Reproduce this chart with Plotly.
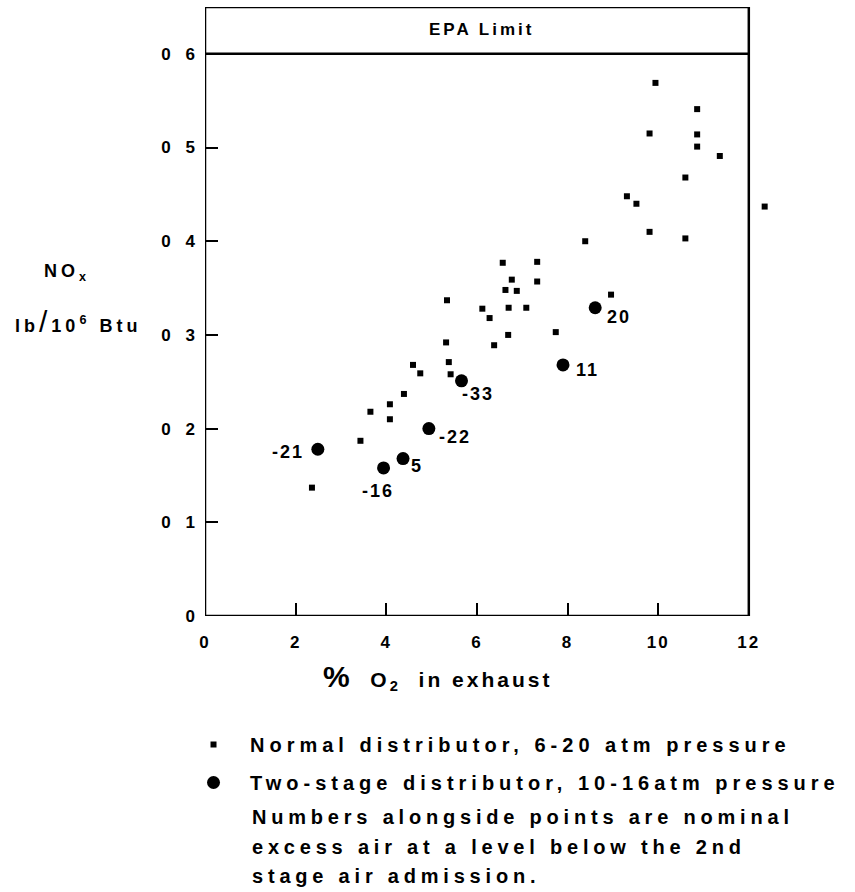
import plotly.graph_objects as go

# ---- data ----
normal_x = [9.94, 10.86, 9.81, 10.86, 10.86, 11.36, 10.60, 9.31, 9.52, 12.35,
            9.81, 10.60, 8.39, 6.57, 7.33, 6.77, 7.33, 6.63, 6.88, 8.96,
            5.34, 6.12, 6.70, 7.09, 6.28, 7.74, 6.69, 6.38, 5.32, 5.38,
            4.59, 4.75, 5.42, 4.39, 4.08, 3.65, 4.08, 3.43, 2.36]
normal_y = [0.569, 0.541, 0.515, 0.514, 0.501, 0.491, 0.468, 0.448, 0.440, 0.437,
            0.410, 0.403, 0.400, 0.377, 0.378, 0.359, 0.357, 0.348, 0.347, 0.343,
            0.337, 0.328, 0.329, 0.329, 0.318, 0.303, 0.300, 0.289, 0.292, 0.271,
            0.268, 0.259, 0.258, 0.237, 0.226, 0.218, 0.210, 0.187, 0.137]

two_stage_x = [2.49, 3.94, 4.37, 4.94, 5.66, 7.90, 8.61]
two_stage_y = [0.178, 0.158, 0.168, 0.200, 0.251, 0.268, 0.329]
two_stage_labels = ["-21", "-16", "5", "-22", "-33", "11", "20"]

x_ticks = [0, 2, 4, 6, 8, 10, 12]
x_tick_labels = ["0", "2", "4", "6", "8", "10", "12"]
y_ticks = [0, 0.1, 0.2, 0.3, 0.4, 0.5, 0.6]
y_tick_labels = ["0", "0 1", "0 2", "0 3", "0 4", "0 5", "0 6"]

epa_limit = 0.6
series_names = ["Normal distributor, 6-20 atm pressure",
                "Two-stage distributor, 10-16atm pressure"]
note_lines = ["Numbers alongside points are nominal",
              "excess air at a level below the 2nd",
              "stage air admission."]

# ---- layout geometry ----
W, H = 855, 892
X_MAX, Y_MAX = 12, 0.65          # frame extent
X_VIEW = 12.6                    # room for the point drawn just outside the frame
L, T, B = 205, 7, 616
R_FRAME = 749
R = L + (R_FRAME - L) * X_VIEW / X_MAX
FONT = "Liberation Sans"


def px(xp, yp):
    return (xp - L) / (R - L), (B - yp) / (B - T)


def sp(text, s=3):
    return f'<span style="letter-spacing:{s}px">{text}</span>'


def bold(size):
    return dict(family=FONT, size=size, color="black", weight="bold")


fig = go.Figure()
fig.add_trace(go.Scatter(
    x=normal_x, y=normal_y, mode="markers", name=sp(series_names[0], 5),
    marker=dict(symbol="square", size=6, color="black"),
    cliponaxis=False, legendgroup="a"))
fig.add_trace(go.Scatter(
    x=two_stage_x, y=two_stage_y, mode="markers", name=sp(series_names[1], 5),
    marker=dict(symbol="circle", size=13, color="black"),
    cliponaxis=False, legendgroup="b"))

# point labels
shifts = [(-30, -3), (-6, -23), (14, -7), (26, -8), (16, -13), (24, -5), (24, -9)]
for xv, yv, lab, (dx, dy) in zip(two_stage_x, two_stage_y, two_stage_labels, shifts):
    fig.add_annotation(x=xv, y=yv, text=sp(lab, 2), showarrow=False,
                       xshift=dx, yshift=dy, xanchor="center", yanchor="middle",
                       font=bold(18))

# frame (drawn to x = 12 only) and EPA limit line
frame = dict(color="black", width=2.5)
fig.add_shape(type="line", x0=0, x1=X_MAX, y0=0, y1=0, xref="x", yref="y", line=frame)
fig.add_shape(type="line", x0=0, x1=0, y0=0, y1=Y_MAX, xref="x", yref="y", line=frame)
fig.add_shape(type="line", x0=X_MAX, x1=X_MAX, y0=0, y1=Y_MAX, xref="x", yref="y", line=frame)
fig.add_shape(type="line", x0=0, x1=X_MAX, y0=Y_MAX, y1=Y_MAX, xref="x", yref="y", line=frame)
fig.add_shape(type="line", x0=0, x1=X_MAX, y0=epa_limit, y1=epa_limit,
              xref="x", yref="y", line=frame)
fig.add_annotation(x=6.1, y=0.626, text=sp("EPA Limit", 3), showarrow=False,
                   xanchor="center", yanchor="middle", font=bold(17))

# axis titles
ax, ay = px(67, 272)
fig.add_annotation(x=ax, y=ay, xref="paper", yref="paper", showarrow=False,
                   xanchor="center", yanchor="middle",
                   text=sp("NO<sub>x</sub>", 4), font=bold(18))
ax, ay = px(78, 322)
fig.add_annotation(x=ax, y=ay, xref="paper", yref="paper", showarrow=False,
                   xanchor="center", yanchor="middle",
                   text=sp('lb<span style="font-size:30px;font-weight:normal">/</span>10<sup>6</sup> Btu', 4),
                   font=bold(18))
ax, ay = px(438, 677)
fig.add_annotation(x=ax, y=ay, xref="paper", yref="paper", showarrow=False,
                   xanchor="center", yanchor="middle",
                   text=sp('<span style="font-size:30px">%</span>  O<sub>2</sub>  in exhaust', 3),
                   font=bold(21))

# note lines
for i, line in enumerate(note_lines):
    ax, ay = px(250, 817 + 29.5 * i)
    fig.add_annotation(x=ax, y=ay, xref="paper", yref="paper", showarrow=False,
                       xanchor="left", yanchor="middle", text=sp(line, 4.8),
                       font=bold(20))

lx, ly = px(177, 725)
fig.update_layout(
    width=W, height=H,
    margin=dict(l=L, r=W - R, t=T, b=H - B, pad=0),
    paper_bgcolor="white", plot_bgcolor="white",
    showlegend=True,
    legend=dict(x=lx, y=ly, xanchor="left", yanchor="top",
                font=bold(20), itemwidth=63,
                tracegroupgap=9, traceorder="grouped",
                bgcolor="rgba(0,0,0,0)", itemsizing="trace"),
    xaxis=dict(range=[0, X_VIEW], tickvals=x_ticks, ticktext=[sp(t, 2) for t in x_tick_labels],
               ticks="inside", ticklen=13, tickwidth=2, tickcolor="black",
               showline=False, showgrid=False, zeroline=False, ticklabelstandoff=14,
               tickfont=bold(17)),
    yaxis=dict(range=[0, Y_MAX], tickvals=y_ticks, ticktext=[sp(t, 5) for t in y_tick_labels],
               ticks="inside", ticklen=13, tickwidth=2, tickcolor="black",
               showline=False, showgrid=False, zeroline=False, ticklabelstandoff=4,
               tickfont=bold(17)),
)

fig.write_html("out.html")
